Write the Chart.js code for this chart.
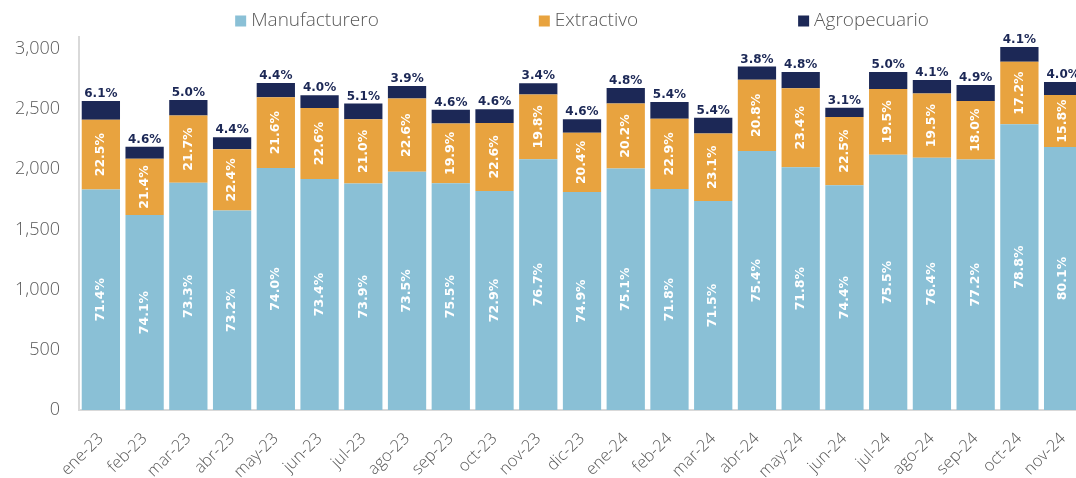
<!DOCTYPE html>
<html>
<head>
<meta charset="utf-8">
<script src="https://cdn.jsdelivr.net/npm/chart.js@4.4.1/dist/chart.umd.min.js"></script>
<style>
  html, body { margin: 0; padding: 0; background: #fff; overflow: hidden; }
  #wrap { width: 1085px; height: 478px; }
</style>
</head>
<body>
<div id="wrap"><canvas id="sector-chart"></canvas></div>
<script>
// Monthly totals and the share (%) of each sector
const months = ['ene-23', 'feb-23', 'mar-23', 'abr-23', 'may-23', 'jun-23', 'jul-23', 'ago-23',
  'sep-23', 'oct-23', 'nov-23', 'dic-23', 'ene-24', 'feb-24', 'mar-24', 'abr-24', 'may-24',
  'jun-24', 'jul-24', 'ago-24', 'sep-24', 'oct-24', 'nov-24'];
const totals = [2568, 2186, 2577, 2266, 2718, 2615, 2547, 2693, 2496, 2498, 2718, 2418,
  2673, 2557, 2429, 2854, 2809, 2512, 2809, 2743, 2698, 3014, 2729];
const shareManuf = [71.4, 74.1, 73.3, 73.2, 74.0, 73.4, 73.9, 73.5, 75.5, 72.9, 76.7, 74.9,
  75.1, 71.8, 71.5, 75.4, 71.8, 74.4, 75.5, 76.4, 77.2, 78.8, 80.1];
const shareExtr = [22.5, 21.4, 21.7, 22.4, 21.6, 22.6, 21.0, 22.6, 19.9, 22.6, 19.8, 20.4,
  20.2, 22.9, 23.1, 20.8, 23.4, 22.5, 19.5, 19.5, 18.0, 17.2, 15.8];
const shareAgro = [6.1, 4.6, 5.0, 4.4, 4.4, 4.0, 5.1, 3.9, 4.6, 4.6, 3.4, 4.6,
  4.8, 5.4, 5.4, 3.8, 4.8, 3.1, 5.0, 4.1, 4.9, 4.1, 4.0];
const yTicks = [0, 500, 1000, 1500, 2000, 2500, 3000];

const navy = '#1C2856';
const grey = '#595959';

// value of a segment = total * share
const part = shares => shares.map((s, i) => totals[i] * s / 100);

// percent labels: white & vertical inside the bars, navy on top for the last series
const barLabels = {
  id: 'barLabels',
  afterDatasetsDraw(chart) {
    const ctx = chart.ctx;
    const last = chart.data.datasets.length - 1;
    chart.data.datasets.forEach((ds, di) => {
      chart.getDatasetMeta(di).data.forEach((bar, i) => {
        const text = ds.shares[i].toFixed(1) + '%';
        ctx.save();
        ctx.textAlign = 'center';
        if (di < last) {
          ctx.font = 'bold 12.5px "DejaVu Sans"';
          ctx.translate(bar.x, (bar.y + bar.base) / 2);
          ctx.rotate(-Math.PI / 2);
          ctx.fillStyle = '#fff';
          ctx.textBaseline = 'middle';
          ctx.fillText(text, 0, 0);
        } else {
          ctx.font = 'bold 12px "DejaVu Sans"';
          ctx.fillStyle = navy;
          ctx.textBaseline = 'bottom';
          ctx.fillText(text, bar.x, bar.y - 1);
        }
        ctx.restore();
      });
    });
  }
};

// legend row above the plot, spread out and centred on the chart area
const wideLegend = {
  id: 'wideLegend',
  afterDraw(chart) {
    const ctx = chart.ctx;
    const box = 11, gap = 5, spacing = 160, y = 21;
    ctx.save();
    ctx.font = '300 19px "Open Sans"';
    ctx.textBaseline = 'middle';
    const items = chart.data.datasets.map(ds => ({
      text: ds.label, color: ds.backgroundColor,
      w: box + gap + ctx.measureText(ds.label).width
    }));
    const total = items.reduce((a, it) => a + it.w, 0) + spacing * (items.length - 1);
    let x = (chart.chartArea.left + chart.chartArea.right) / 2 - total / 2;
    items.forEach(it => {
      ctx.fillStyle = it.color;
      ctx.fillRect(x, y - box / 2, box, box);
      ctx.fillStyle = grey;
      ctx.fillText(it.text, x + box + gap, y);
      x += it.w + spacing;
    });
    ctx.restore();
  }
};

new Chart(document.getElementById('sector-chart'), {
  type: 'bar',
  data: {
    labels: months,
    datasets: [
      { label: 'Manufacturero', data: part(shareManuf), shares: shareManuf, backgroundColor: '#8AC0D6' },
      { label: 'Extractivo', data: part(shareExtr), shares: shareExtr, backgroundColor: '#E8A33F' },
      { label: 'Agropecuario', data: part(shareAgro), shares: shareAgro, backgroundColor: navy }
    ]
  },
  options: {
    responsive: true,
    maintainAspectRatio: false,
    animation: false,
    datasets: { bar: { categoryPercentage: 1, barPercentage: 0.875, borderWidth: 0 } },
    layout: { padding: { top: 37, left: 0, right: 0, bottom: 0 } },
    plugins: { legend: { display: false }, tooltip: { enabled: false } },
    scales: {
      x: {
        stacked: true,
        afterFit: s => { s.height = 68; s.paddingLeft = 0; s.paddingRight = 0; },
        border: { color: '#D9D9D9', width: 2 },
        grid: { display: false, drawTicks: false },
        ticks: {
          autoSkip: false, maxRotation: 45, minRotation: 45, padding: 19,
          color: grey, font: { family: 'Open Sans', size: 16.5, weight: 300 }
        }
      },
      y: {
        stacked: true,
        min: 0,
        max: 3100,
        afterBuildTicks: s => { s.ticks = yTicks.map(v => ({ value: v })); },
        afterFit: s => { s.width = 79; },
        border: { color: '#D9D9D9', width: 2 },
        grid: { display: false, drawTicks: false },
        ticks: {
          padding: 19, color: grey, font: { family: 'Open Sans', size: 18, weight: 300 },
          callback: v => v.toLocaleString('en-US')
        }
      }
    }
  },
  plugins: [barLabels, wideLegend]
});
</script>
</body>
</html>
